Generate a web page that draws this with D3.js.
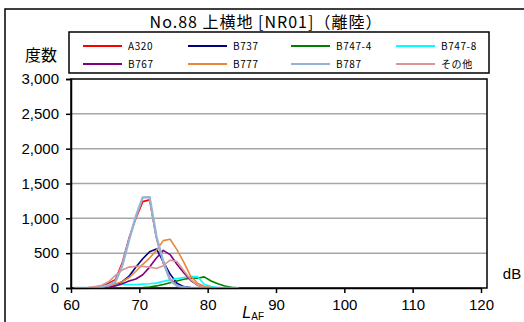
<!DOCTYPE html>
<html><head><meta charset="utf-8">
<script src="https://cdn.jsdelivr.net/npm/d3@7"></script>
<style>
html,body{margin:0;padding:0;background:#fff;}
svg{display:block;}
text{font-family:"Liberation Sans",Arial,sans-serif;fill:#000;}
.jp{font-family:"Noto Sans CJK JP","Liberation Sans",sans-serif;}
</style></head><body>
<svg id="c" width="524" height="322"></svg>
<script>
const titleText = "No.88 上横地 [NR01]（離陸）";
const yLabel = "度数";
const xUnit = "dB";
const dbBins = [60.5,61.5,62.5,63.5,64.5,65.5,66.5,67.5,68.5,69.5,70.5,71.5,72.5,73.5,74.5,75.5,76.5,77.5,78.5,79.5,80.5,81.5,82.5,83.5,84.5];
const seriesNames = ["A320","B737","B747-4","B747-8","B767","B777","B787","その他"];
const seriesColors = ["#ff0000","#000080","#008000","#00ffff","#800080","#e8873a","#95b3d7","#d99694"];
const A320   = [0,0,0,5,20,70,120,360,720,1000,1240,1265,720,360,130,40,10,0,0,0,0,0,0,0,0];
const B737   = [0,0,0,0,5,15,40,90,170,300,420,520,560,380,200,70,20,5,0,0,0,0,0,0,0];
const B747_4 = [0,0,0,0,0,0,0,0,0,2,5,15,30,50,75,100,125,140,140,160,100,60,30,10,0];
const B747_8 = [0,0,0,0,5,20,40,50,50,50,55,60,70,95,115,135,150,165,165,55,20,5,0,0,0];
const B767   = [0,0,0,0,5,15,30,60,100,130,190,300,430,540,480,340,220,110,40,10,0,0,0,0,0];
const B777   = [0,0,0,5,15,30,60,90,150,240,340,430,540,680,700,550,370,170,70,25,5,0,0,0,0];
const B787   = [0,0,0,5,15,40,90,320,690,1030,1300,1305,740,380,110,30,10,0,0,0,0,0,0,0,0];
const Other  = [0,0,5,20,40,90,180,260,300,310,310,300,280,320,400,380,250,120,40,10,0,0,0,0,0];
const seriesValues = [A320,B737,B747_4,B747_8,B767,B777,B787,Other];
const yTicks = [0,500,1000,1500,2000,2500,3000];
const xTicks = [60,70,80,90,100,110,120];

const svg = d3.select("#c");
const x = d3.scaleLinear().domain([60,120]).range([71,481]);
const y = d3.scaleLinear().domain([0,3000]).range([288,79]);
const plotRight = 487;

// outer chart border
svg.append("rect").attr("x",5).attr("y",9).attr("width",530).attr("height",330)
  .attr("fill","none").attr("stroke","#000").attr("stroke-width",1.5);

// title
svg.append("text").attr("class","jp").attr("x",266).attr("y",28).attr("text-anchor","middle")
  .attr("font-size",16).attr("letter-spacing",1).text(titleText);

// legend
svg.append("rect").attr("x",69).attr("y",32).attr("width",420).attr("height",41)
  .attr("fill","#fff").attr("stroke","#000").attr("stroke-width",1.5);
const legX = [83,188,291,396], legY = [46,64];
seriesNames.forEach((n,i)=>{
  const lx = legX[i%4], ly = legY[Math.floor(i/4)];
  svg.append("line").attr("x1",lx).attr("x2",lx+39).attr("y1",ly).attr("y2",ly)
    .attr("stroke",seriesColors[i]).attr("stroke-width",i===6?2.2:1.8);
  svg.append("text").attr("class","jp").attr("x",lx+45).attr("y",ly+3.5)
    .attr("font-size",10).attr("letter-spacing",0.6).text(n);
});

// y label
svg.append("text").attr("class","jp").attr("x",41).attr("y",61).attr("text-anchor","middle")
  .attr("font-size",16).text(yLabel);

// gridlines
svg.append("g").selectAll("line").data(yTicks.filter(t=>t>0&&t<3000)).join("line")
  .attr("x1",71).attr("x2",plotRight).attr("y1",d=>y(d)).attr("y2",d=>y(d))
  .attr("stroke","#a6a6a6").attr("stroke-width",1.5);

// plot frame
svg.append("rect").attr("x",71).attr("y",y(3000)).attr("width",plotRight-71).attr("height",y(0)-y(3000))
  .attr("fill","none").attr("stroke","#000").attr("stroke-width",1.5);

// series
const line = d3.line().x((d,i)=>x(dbBins[i])).y(d=>y(d));
seriesValues.forEach((vals,i)=>{
  svg.append("path").datum(vals).attr("d",line).attr("fill","none")
    .attr("stroke",seriesColors[i]).attr("stroke-width",i===6?2.4:1.6)
    .attr("stroke-linejoin","round");
});

// axes
const yAxis = d3.axisLeft(y).tickValues(yTicks).tickSize(5).tickPadding(7).tickFormat(d3.format(","));
const gy = svg.append("g").attr("transform","translate(71,0)").call(yAxis);
gy.select(".domain").attr("stroke","#000").attr("stroke-width",1.5);
gy.selectAll(".tick line").attr("stroke","#000").attr("stroke-width",1.5);
gy.selectAll("text").attr("font-size",15).attr("font-family","'Liberation Sans',Arial,sans-serif");

const xAxis = d3.axisBottom(x).tickValues(xTicks).tickSize(5).tickPadding(6).tickSizeOuter(0);
const gx = svg.append("g").attr("transform","translate(0,288)").call(xAxis);
gx.select(".domain").attr("stroke","#000").attr("stroke-width",1.5);
gx.selectAll(".tick line").attr("stroke","#000").attr("stroke-width",1.5);
gx.selectAll("text").attr("font-size",15).attr("font-family","'Liberation Sans',Arial,sans-serif");

// unit
svg.append("text").attr("x",512).attr("y",279).attr("text-anchor","middle").attr("font-size",15).text(xUnit);
const lab = svg.append("text").attr("x",264).attr("y",318).attr("text-anchor","end").attr("font-size",16);
lab.append("tspan").attr("font-style","italic").text("L");
lab.append("tspan").attr("font-size",10).attr("dy",2).text("AF");
</script>
</body></html>
